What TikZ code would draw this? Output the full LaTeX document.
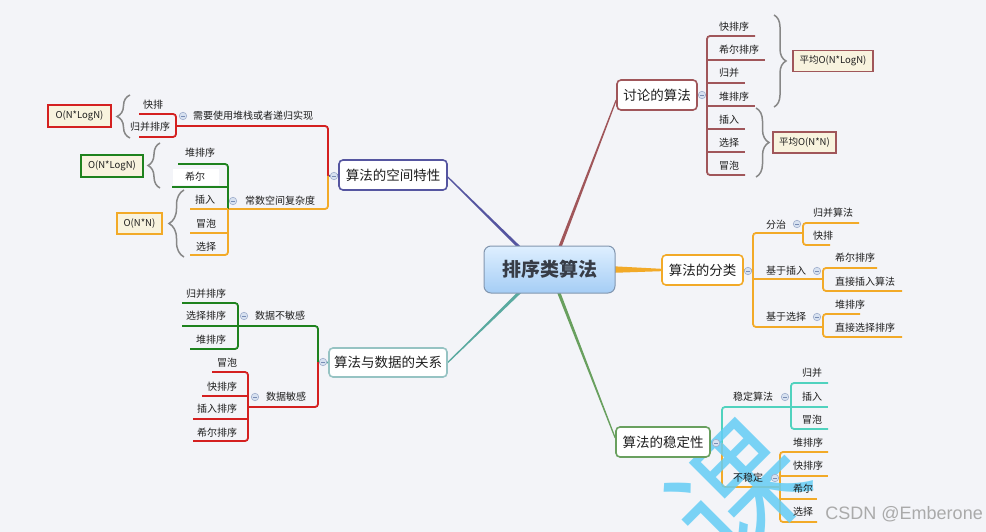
\documentclass[tikz,border=0pt]{standalone}
\usepackage{fontspec}
\setmainfont{Noto Sans CJK SC}
\newfontfamily\latinsans{Liberation Sans}
\usetikzlibrary{calc,decorations.pathreplacing}
\pgfdeclarelayer{back}
\pgfdeclarelayer{lines}
\pgfsetlayers{back,lines,main}

\definecolor{bg}{RGB}{243,244,248}
\definecolor{cbrown}{RGB}{160,86,90}
\definecolor{corange}{RGB}{242,170,40}
\definecolor{cgreenl}{RGB}{105,160,95}
\definecolor{cteal}{RGB}{80,210,190}
\definecolor{cpurple}{RGB}{85,85,160}
\definecolor{cred}{RGB}{212,32,32}
\definecolor{cdgreen}{RGB}{30,130,30}
\definecolor{cgteal}{RGB}{150,195,195}
\definecolor{clteal}{RGB}{90,170,160}
\definecolor{cream}{RGB}{248,243,222}
\definecolor{bracegray}{RGB}{135,135,135}
\definecolor{txt}{RGB}{30,30,30}
\definecolor{wm}{RGB}{100,205,245}
\definecolor{foldf}{RGB}{215,225,240}
\definecolor{foldb}{RGB}{160,175,205}
\definecolor{foldm}{RGB}{120,140,180}
\definecolor{rootb}{RGB}{130,150,175}
\definecolor{roott}{RGB}{222,239,255}
\definecolor{rootbt}{RGB}{165,205,245}
\definecolor{rootfg}{RGB}{55,60,70}
\definecolor{csdn}{RGB}{170,170,170}

\newcommand\taper[5]{%
  \fill[#1] ($(#2)!#4!90:(#3)$) -- ($(#3)!#5!-90:(#2)$) -- ($(#3)!#5!90:(#2)$) -- ($(#2)!#4!-90:(#3)$) -- cycle;}

\tikzset{
  leaf/.style={inner sep=0pt, font=\fontsize{10}{12}\selectfont, text=txt},
  topic/.style={draw, rounded corners=4pt, line width=1.6pt, fill=white, font=\fontsize{13.5}{16}\selectfont, text=txt, inner sep=0pt, minimum height=30pt},
  cbox/.style={draw, line width=1.6pt, fill=cream, font=\fontsize{9.5}{11}\selectfont, text=txt, inner sep=0pt, minimum height=21pt},
  rail/.style={line width=1.8pt, rounded corners=3pt},
  fold/.style={circle, draw=foldb, fill=foldf, line width=0.6pt, minimum size=7.5pt, inner sep=0pt,
    path picture={\draw[foldm, line width=0.8pt] ([xshift=-2pt]path picture bounding box.center) -- ([xshift=2pt]path picture bounding box.center);}},
  bracel/.style={decorate, decoration={brace, amplitude=#1}, draw=bracegray, line width=1.5pt},
  bracel/.default=12pt,
  rootbox/.style={draw=rootb, line width=1pt, rounded corners=7pt, top color=roott, bottom color=rootbt,
    minimum width=131pt, minimum height=47pt, font=\bfseries\fontsize{19}{22}\selectfont, text=rootfg},
}

\begin{document}
\begin{tikzpicture}[x=1pt,y=-1pt]
\begin{pgfonlayer}{back}
\fill[bg] (0,0) rectangle (986,532);
\end{pgfonlayer}
\useasboundingbox (0,0) rectangle (986,532);

% ---------- root and topics ----------
\node[rootbox] (root) at (549.5,269.5) {排序类算法};
\node[topic, draw=cbrown, minimum width=80pt] (t1) at (657,95) {讨论的算法};
\node[topic, draw=corange, minimum width=81pt] (t2) at (702.5,270) {算法的分类};
\node[topic, draw=cgreenl, minimum width=94pt] (t3) at (663,442) {算法的稳定性};
\node[topic, draw=cpurple, minimum width=108pt] (t4) at (393,175) {算法的空间特性};
\node[topic, draw=cgteal, minimum width=118pt, minimum height=29pt] (t5) at (388,362.5) {算法与数据的关系};

\coordinate (rA) at (558,252);
\coordinate (rB) at (524,252);
\coordinate (rC) at (524,288);
\coordinate (rD) at (557,288);
\coordinate (rE) at (608,269.5);

\begin{pgfonlayer}{lines}
\taper{cbrown}{rA}{$(t1.west)+(0,5)$}{1.6pt}{0.6pt}
\taper{cpurple}{rB}{$(t4.east)+(0,2)$}{1.6pt}{0.6pt}
\taper{clteal}{rC}{t5.east}{1.6pt}{0.6pt}
\taper{cgreenl}{rD}{$(t3.west)+(0,-4)$}{1.6pt}{0.6pt}
\taper{corange}{rE}{t2.west}{3.5pt}{1.2pt}

% ---------- subtree 1: 讨论的算法 ----------
\draw[rail, cbrown] (t1.east) -- (707,95);
\draw[rail, cbrown] (755,36) -- (707,36) -- (707,175) -- (745,175);
\draw[rail, cbrown] (707,60) -- (765,60);
\draw[rail, cbrown] (707,83) -- (745,83);
\draw[rail, cbrown] (707,106) -- (755,106);
\draw[rail, cbrown] (707,129) -- (745,129);
\draw[rail, cbrown] (707,152) -- (745,152);

% ---------- subtree 2: 算法的分类 ----------
\draw[rail, corange] (t2.east) -- (753,270);
\draw[rail, corange] (803,233) -- (753,233) -- (753,327) -- (823,327);
\draw[rail, corange] (753,279) -- (823,279);
\draw[rail, corange] (859,223) -- (803,223) -- (803,245) -- (830,245);
\draw[rail, corange] (877,268) -- (823,268) -- (823,291) -- (902,291);
\draw[rail, corange] (860,314) -- (823,314) -- (823,337) -- (902,337);

% ---------- subtree 3: 算法的稳定性 ----------
\draw[rail, cteal] (t3.east) -- (722,442);
\draw[rail, cteal] (791,407) -- (722,407) -- (722,443);
\draw[rail, corange] (722,443) -- (722,487) -- (780,487);
\draw[rail, cteal] (828,383) -- (791,383) -- (791,429) -- (828,429);
\draw[rail, cteal] (791,407) -- (828,407);
\draw[rail, corange] (828,452) -- (780,452) -- (780,522) -- (817,522);
\draw[rail, corange] (780,476) -- (828,476);
\draw[rail, corange] (780,499) -- (817,499);

% ---------- subtree 4: 算法的空间特性 ----------
\draw[rail, cpurple] (t4.west) -- (328,176);
\draw[rail, cred] (176,126) -- (328,126) -- (328,176);
\draw[rail, corange] (328,176) -- (328,209) -- (228,209);
\draw[rail, cred] (139,114) -- (176,114) -- (176,137) -- (139,137);
\draw[rail, cdgreen] (178,164) -- (228,164) -- (228,209);
\draw[rail, cdgreen] (172,187) -- (228,187);
\draw[rail, corange] (228,209) -- (228,255) -- (190,255);
\draw[rail, corange] (190,209) -- (228,209);
\draw[rail, corange] (190,233) -- (228,233);

% ---------- subtree 5: 算法与数据的关系 ----------
\draw[rail, clteal] (t5.west) -- (318,362);
\draw[rail, cdgreen] (238,326) -- (318,326) -- (318,362);
\draw[rail, cred] (318,362) -- (318,407) -- (248,407);
\draw[rail, cdgreen] (182,303) -- (238,303) -- (238,349) -- (190,349);
\draw[rail, cdgreen] (182,326) -- (238,326);
\draw[rail, cred] (212,372) -- (248,372) -- (248,441) -- (193,441);
\draw[rail, cred] (202,396) -- (248,396);
\draw[rail, cred] (193,419) -- (248,419);

% ---------- watermark ----------
\begin{scope}
\clip (0,0) rectangle (986,532);
\node[rotate=45, text=wm, opacity=0.85, inner sep=0pt, font=\fontsize{130}{130}\selectfont] (wmk) at (738,492) {课};
\end{scope}
\end{pgfonlayer}

% ---------- fold markers ----------
\node[fold] (f1) at (702,95) {};
\node[fold] (f2) at (748,271) {};
\node[fold] (f2a) at (797,224) {};
\node[fold] (f2b) at (817,271) {};
\node[fold] (f2c) at (817,317) {};
\node[fold] (f3) at (716,443) {};
\node[fold] (f3a) at (785,397) {};
\node[fold] (f3b) at (775,478) {};
\node[fold] (f4) at (334,176) {};
\node[fold] (f4a) at (183,116) {};
\node[fold] (f4b) at (233,201) {};
\node[fold] (f5) at (323,362) {};
\node[fold] (f5a) at (244,316) {};
\node[fold] (f5b) at (255,397) {};

% ---------- leaves 1 ----------
\node[leaf, anchor=west] (a1) at (719,27) {快排序};
\node[leaf, anchor=west] (a2) at (719,50) {希尔排序};
\node[leaf, anchor=west] (a3) at (719,73) {归并};
\node[leaf, anchor=west] (a4) at (719,97) {堆排序};
\node[leaf, anchor=west] (a5) at (719,120) {插入};
\node[leaf, anchor=west] (a6) at (719,143) {选择};
\node[leaf, anchor=west] (a7) at (719,166) {冒泡};
\draw[bracel=12pt] (774,15) -- (774,107);
\draw[bracel=13pt] (756,108) -- (756,177);
\node[cbox, draw=cbrown, minimum width=80pt] (b1) at (833,61) {平均O(N*LogN)};
\node[cbox, draw=cbrown, minimum width=63pt] (b2) at (804.5,142.5) {平均O(N*N)};

% ---------- leaves 2 ----------
\node[leaf] (c1) at (776,225) {分治};
\node[leaf, anchor=west] (c11) at (813,213) {归并算法};
\node[leaf, anchor=west] (c12) at (813,236) {快排};
\node[leaf, anchor=west] (c2) at (766,271) {基于插入};
\node[leaf, anchor=west] (c21) at (835,258) {希尔排序};
\node[leaf, anchor=west] (c22) at (835,282) {直接插入算法};
\node[leaf, anchor=west] (c3) at (766,317) {基于选择};
\node[leaf, anchor=west] (c31) at (835,305) {堆排序};
\node[leaf, anchor=west] (c32) at (835,328) {直接选择排序};

% ---------- leaves 3 ----------
\node[leaf, anchor=west] (d1) at (733,397) {稳定算法};
\node[leaf, anchor=west] (d11) at (802,373) {归并};
\node[leaf, anchor=west] (d12) at (802,397) {插入};
\node[leaf, anchor=west] (d13) at (802,420) {冒泡};
\node[leaf, anchor=west] (d2) at (733,478) {不稳定};
\node[leaf, anchor=west] (d21) at (793,443) {堆排序};
\node[leaf, anchor=west] (d22) at (793,466) {快排序};
\node[leaf, anchor=west] (d23) at (793,489) {希尔};
\node[leaf, anchor=west] (d24) at (793,512) {选择};

% ---------- leaves 4 ----------
\node[leaf] (e1) at (253,116) {需要使用堆栈或者递归实现};
\node[leaf] (e11) at (153,105) {快排};
\node[leaf] (e12) at (150,127) {归并排序};
\node[leaf] (e2) at (280,201) {常数空间复杂度};
\node[leaf] (e21) at (200,153) {堆排序};
\fill[white] (173,169) rectangle (219,185);
\node[leaf] (e22) at (195,177) {希尔};
\node[leaf] (e23) at (205,200) {插入};
\node[leaf] (e24) at (206,224) {冒泡};
\node[leaf] (e25) at (206,247) {选择};
\draw[bracel=13pt] (130,138) -- (130,95);
\draw[bracel=12pt] (160,188) -- (160,143);
\draw[bracel=15pt] (184,257) -- (184,190);
\node[cbox, draw=cred, minimum width=63pt, minimum height=22pt] (b3) at (79.5,116) {O(N*LogN)};
\node[cbox, draw=cdgreen, minimum width=62pt, minimum height=22pt] (b4) at (112,166) {O(N*LogN)};
\node[cbox, draw=corange, minimum width=45pt] (b5) at (139.5,223.5) {O(N*N)};

% ---------- leaves 5 ----------
\node[leaf] (g1) at (280,316) {数据不敏感};
\node[leaf] (g11) at (206,294) {归并排序};
\node[leaf] (g12) at (206,316) {选择排序};
\node[leaf] (g13) at (211,340) {堆排序};
\node[leaf] (g2) at (286,397) {数据敏感};
\node[leaf] (g21) at (227,363) {冒泡};
\node[leaf] (g22) at (222,387) {快排序};
\node[leaf] (g23) at (217,409) {插入排序};
\node[leaf] (g24) at (217,433) {希尔排序};

\node[anchor=east, inner sep=0pt, font=\latinsans\fontsize{18}{20}\selectfont, text=csdn] (csdn) at (983,514) {CSDN @Emberone};
\end{tikzpicture}
\end{document}
